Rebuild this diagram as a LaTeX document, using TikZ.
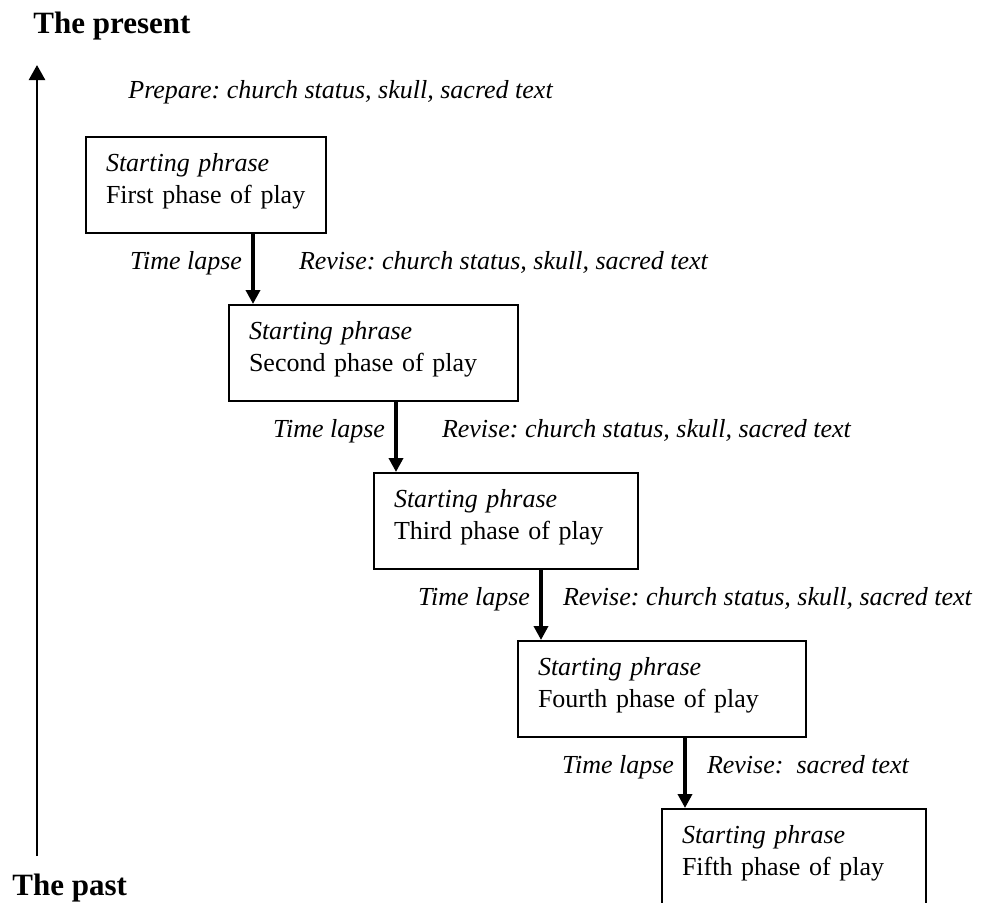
\documentclass[tikz,border=0pt]{standalone}
\usepackage{fontspec}
\setmainfont{Liberation Serif}
\usetikzlibrary{arrows.meta}
\frenchspacing

\newcommand\bodyfont{\fontsize{13}{16}\selectfont}

\begin{document}
\begin{tikzpicture}[x=0.5pt, y=-0.5pt,
        phase/.style={draw, line width=1pt, anchor=north west, align=left,
            inner xsep=10pt, text width=#1-20pt, minimum height=48pt,
            font=\bodyfont, execute at end node={\rule[-7pt]{0pt}{0pt}}},
        flow/.style={line width=2pt, -{Triangle[width=7pt,length=7pt]}},
        note/.style={font=\bodyfont\itshape, inner sep=0pt},
        lapse/.style={note, pos=0.5, anchor=base east, xshift=-4.5pt},
        revise/.style={note, pos=0.5, anchor=base west, xshift=#1},
        heading/.style={font=\fontsize{15.5}{18}\selectfont\bfseries, anchor=base west, inner sep=0pt}]
        \useasboundingbox (0,0) rectangle (985,902);
        \clip (0,0) rectangle (985,902);

        % Draw the time axis
        \coordinate (past) at (37,856);
        \coordinate (present) at (37,65);
        \draw[line width=1.25pt, -{Triangle[width=8pt,length=7.5pt]}] (past) -- (present);
        \node[heading] (presentlbl) at (33,33) {The present};
        \node[heading] (pastlbl) at (12,895) {The past};

        % Draw the phases of play
        \node[note, anchor=base west] (prepare) at (128,98) {Prepare: church status, skull, sacred text};
        \node[phase=120pt] (p1) at (85,136) {{\itshape Starting phrase}\\First phase of play};
        \node[phase=144.5pt] (p2) at (228,304) {{\itshape Starting phrase}\\Second phase of play};
        \node[phase=132pt] (p3) at (373,472) {{\itshape Starting phrase}\\Third phase of play};
        \node[phase=144pt] (p4) at (517,640) {{\itshape Starting phrase}\\Fourth phase of play};
        \node[phase=132pt] (p5) at (661,808) {{\itshape Starting phrase}\\Fifth phase of play};

        % Draw the time lapses
        \coordinate (a1) at ([xshift=84pt]p1.south west);
        \coordinate (a2) at ([xshift=84pt]p2.south west);
        \coordinate (a3) at ([xshift=84pt]p3.south west);
        \coordinate (a4) at ([xshift=84pt]p4.south west);
        \draw[flow] (a1) -- (a1 |- p2.north)
            node[lapse] {Time lapse} node[revise=22pt] {Revise: church status, skull, sacred text};
        \draw[flow] (a2) -- (a2 |- p3.north)
            node[lapse] {Time lapse} node[revise=22pt] {Revise: church status, skull, sacred text};
        \draw[flow] (a3) -- (a3 |- p4.north)
            node[lapse] {Time lapse} node[revise=10pt] {Revise: church status, skull, sacred text};
        \draw[flow] (a4) -- (a4 |- p5.north)
            node[lapse] {Time lapse} node[revise=10pt] {Revise:\ \ sacred text};
\end{tikzpicture}
\end{document}
